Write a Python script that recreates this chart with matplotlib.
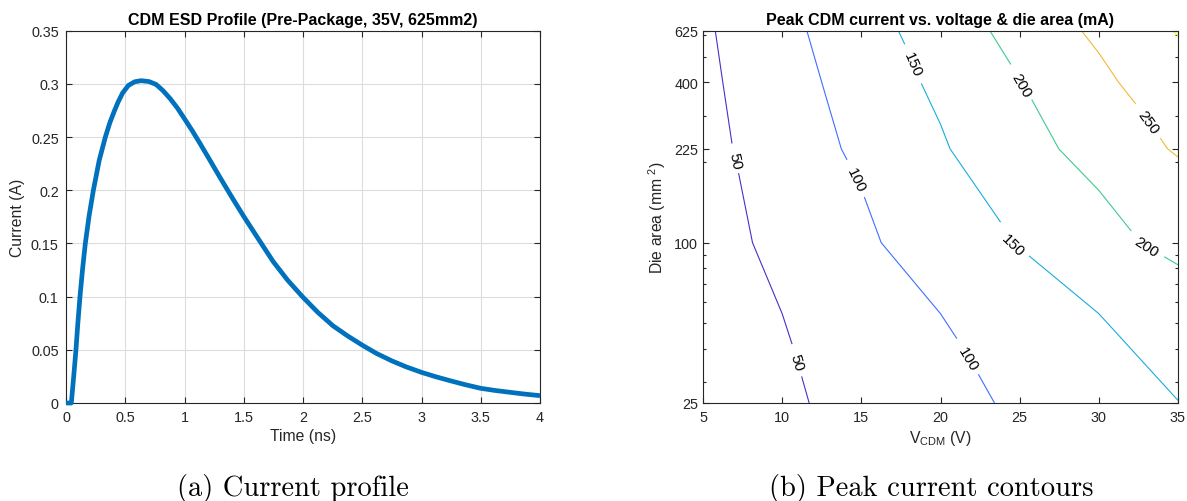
import numpy as np
import matplotlib
matplotlib.use('Agg')
import matplotlib.pyplot as plt
from matplotlib.ticker import FixedLocator, FormatStrFormatter, NullFormatter, LogLocator

plt.rcParams['font.family'] = ['Liberation Sans', 'DejaVu Sans']
plt.rcParams['mathtext.fontset'] = 'custom'
plt.rcParams['mathtext.rm'] = 'Liberation Sans'
plt.rcParams['mathtext.it'] = 'Liberation Sans'

# CDM discharge waveform (35 V, 625 mm2 die)
time_ns = [0, 0.045, 0.065, 0.084, 0.10, 0.118, 0.14, 0.163, 0.195, 0.231,
           0.28, 0.332, 0.37, 0.408, 0.44, 0.478, 0.526, 0.58, 0.633, 0.70,
           0.76, 0.82, 0.88, 0.94, 1.0, 1.064, 1.128, 1.21, 1.294, 1.40,
           1.5, 1.62, 1.748, 1.87, 2.0, 2.127, 2.254, 2.38, 2.5, 2.62,
           2.748, 2.87, 3.0, 3.12, 3.24, 3.37, 3.5, 3.62, 3.75, 3.87, 4.0]
current_a = [0, 0, 0.025, 0.05, 0.075, 0.10, 0.126, 0.15, 0.176, 0.20,
             0.228, 0.25, 0.2635, 0.2745, 0.283, 0.2915, 0.2985, 0.302, 0.303, 0.3022,
             0.2995, 0.2935, 0.286, 0.2773, 0.2672, 0.2562, 0.2445, 0.2291, 0.2131, 0.1934,
             0.1754, 0.1548, 0.1330, 0.1155, 0.0994, 0.0850, 0.0725, 0.0628, 0.0544, 0.0466,
             0.0397, 0.0340, 0.0288, 0.0247, 0.0210, 0.0172, 0.0138, 0.0118, 0.0100, 0.0084, 0.0069]

# peak current (mA) on a voltage x die-area grid
v_cdm = [5, 10, 15, 20, 25, 30, 35]
die_area = [25, 100, 225, 400, 625]
peak_ma = [
    [21.4, 42.7, 64.1, 85.4, 106.8, 128.1, 149.5],
    [30.8, 61.5, 92.3, 123.0, 153.8, 184.5, 215.3],
    [36.4, 72.8, 109.2, 145.6, 182.0, 218.4, 254.8],
    [40.0, 80.0, 120.0, 160.0, 200.0, 240.0, 280.0],
    [43.3, 86.5, 129.8, 173.0, 216.3, 259.5, 302.8],
]
levels = [50, 100, 150, 200, 250, 300]
level_colors = [(0.2647, 0.1978, 0.7952), (0.2440, 0.4358, 0.9988),
                (0.0952, 0.6798, 0.8598), (0.2470, 0.7918, 0.5567),
                (0.9393, 0.7288, 0.2100), (0.9769, 0.9839, 0.0805)]
label_spots = [(7.09, 203), (10.89, 35.5), (14.69, 173), (21.46, 36),
               (18.1, 462), (24.55, 98), (25.0, 388), (33.1, 99), (33.1, 283)]

ink = '#262626'
W, H = 1187, 502
fig = plt.figure(figsize=(W / 100, H / 100), dpi=100)


def style_axes(ax, ypad):
    for s in ax.spines.values():
        s.set_color(ink)
        s.set_linewidth(0.8)
    ax.tick_params(which='both', direction='in', top=True, right=True,
                   colors=ink, labelsize=10.4, width=0.8)
    ax.tick_params(axis='x', which='major', length=4, pad=5)
    ax.tick_params(axis='y', which='major', length=4, pad=ypad)
    ax.tick_params(which='minor', length=2.4)


# (a) current profile
ax1 = fig.add_axes([66 / W, (H - 404) / H, 474 / W, 372.3 / H])
ax1.plot(time_ns, current_a, color='#0072BD', lw=3.4, clip_on=False,
         solid_capstyle='butt', solid_joinstyle='round', zorder=3)
ax1.set_xlim(0, 4)
ax1.set_ylim(0, 0.35)
ax1.xaxis.set_major_locator(FixedLocator(np.arange(0, 4.01, 0.5)))
ax1.yaxis.set_major_locator(FixedLocator(np.arange(0, 0.351, 0.05)))
ax1.xaxis.set_major_formatter(FormatStrFormatter('%g'))
ax1.yaxis.set_major_formatter(FormatStrFormatter('%g'))
ax1.grid(True, color='#dcdcdc', lw=0.8)
ax1.set_axisbelow(True)
style_axes(ax1, 5.2)
ax1.set_title('CDM ESD Profile (Pre-Package, 35V, 625mm2)', fontsize=11.5,
              fontweight='bold', pad=4.6, color='black')
ax1.set_xlabel('Time (ns)', fontsize=11.3, color=ink, labelpad=3)
ax1.set_ylabel('Current (A)', fontsize=11.3, color=ink, labelpad=4)

# (b) peak current contours, log area axis set up before labelling
ax2 = fig.add_axes([703 / W, (H - 404) / H, 475 / W, 372.3 / H])
ax2.set_yscale('log')
ax2.set_xlim(5, 35)
ax2.set_ylim(25, 625)
cs = ax2.contour(v_cdm, die_area, peak_ma, levels=levels,
                 colors=level_colors, linewidths=0.8)
ax2.set_xlim(5, 35)
ax2.set_ylim(25, 625)
ax2.clabel(cs, levels, inline=True, fmt='%d', fontsize=11, colors='black',
           manual=label_spots, inline_spacing=8)
ax2.xaxis.set_major_locator(FixedLocator(v_cdm))
ax2.yaxis.set_major_locator(FixedLocator(die_area))
ax2.yaxis.set_minor_locator(LogLocator(subs=np.arange(2, 10)))
ax2.yaxis.set_major_formatter(FormatStrFormatter('%d'))
ax2.yaxis.set_minor_formatter(NullFormatter())
style_axes(ax2, 3.6)
ax2.set_title('Peak CDM current vs. voltage & die area (mA)', fontsize=11.5,
              fontweight='bold', pad=4.6, color='black')
ax2.set_xlabel('V$_{\\mathrm{CDM}}$ (V)', fontsize=11.3, color=ink, labelpad=3)
ax2.set_ylabel('Die area (mm $^2$)', fontsize=11.3, color=ink, labelpad=4)

# subfigure captions
fig.text(293 / W, 0.026, '(a) Current profile', family='cmr10', fontsize=20.5,
         ha='center', va='center')
fig.text(931 / W, 0.026, '(b) Peak current contours', family='cmr10', fontsize=20.5,
         ha='center', va='center')

fig.savefig('out.png', dpi=100)
